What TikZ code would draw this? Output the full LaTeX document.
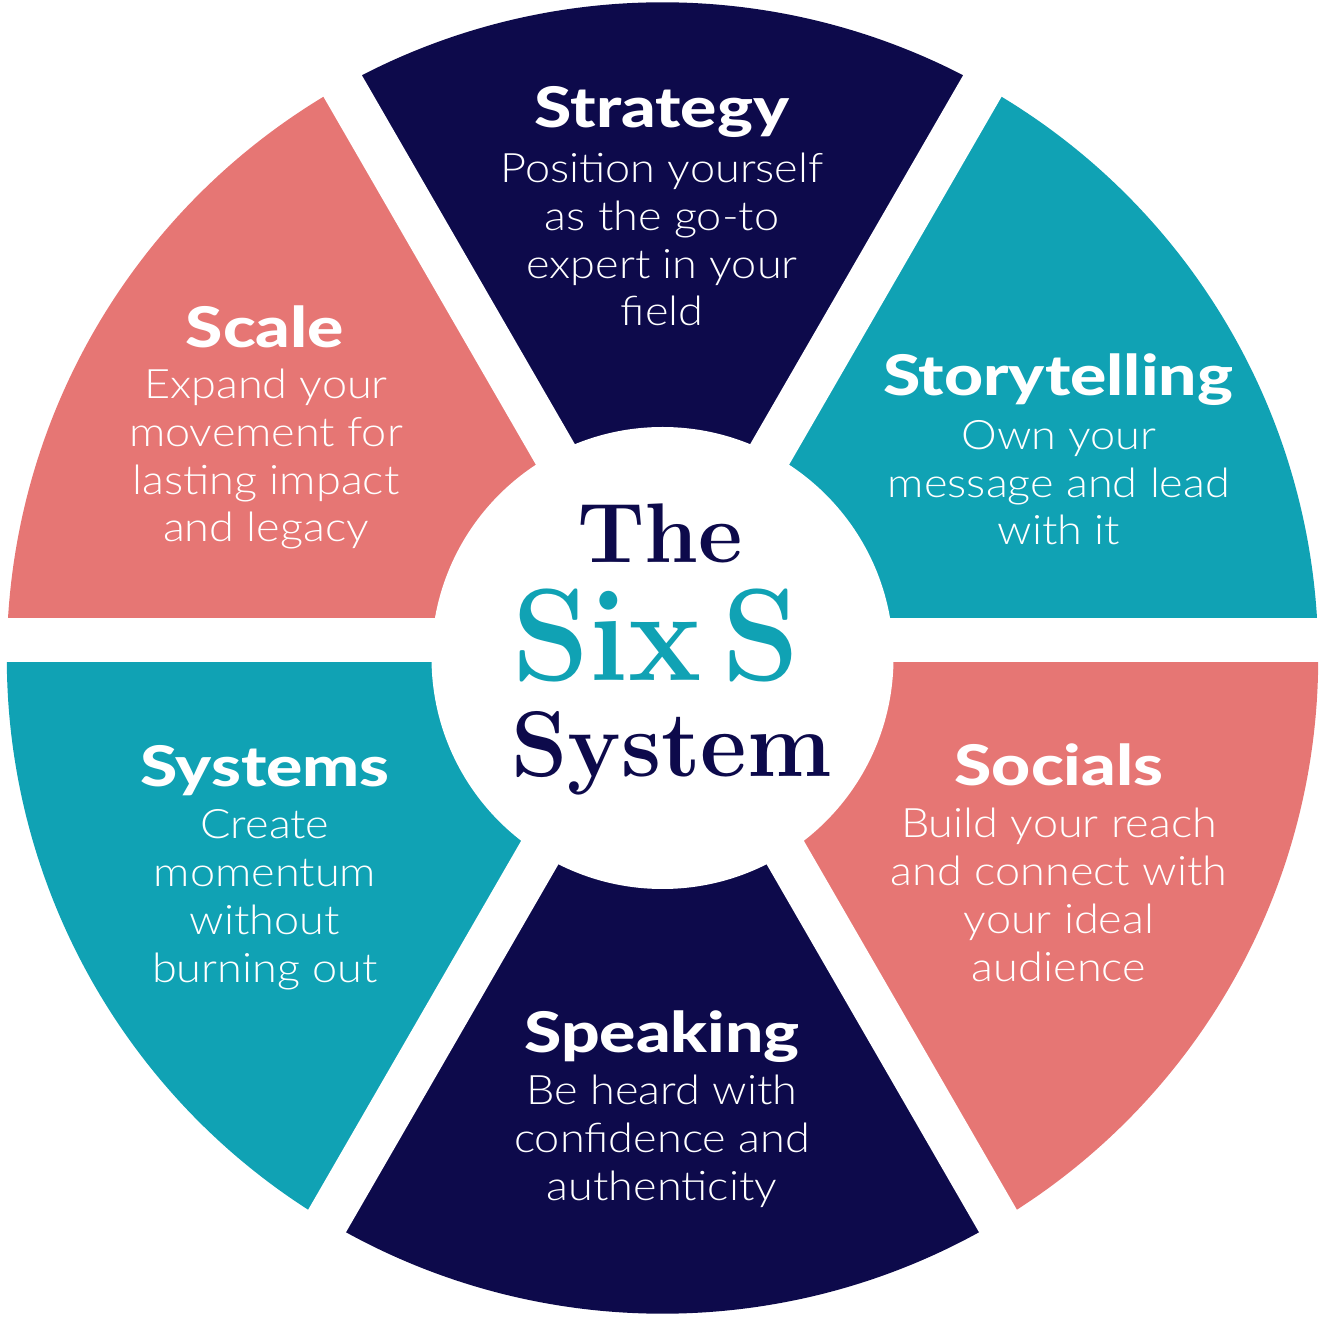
\documentclass[tikz,border=0pt]{standalone}
\usepackage{fontspec}
\usepackage{graphicx}
\usetikzlibrary{calc}
\newfontfamily\latof{Lato Heavy}[FakeStretch=1.21]
\newfontfamily\lightf{Lato Light}[FakeStretch=1.11]
\definecolor{navyc}{HTML}{0D0A4B}
\definecolor{tealc}{HTML}{10A2B4}
\definecolor{coralc}{HTML}{E67674}
\begin{document}
\begin{tikzpicture}[x=0.5pt,y=0.5pt,
  ttl/.style={anchor=base, text=white, inner sep=0pt, font=\latof\fontsize{28pt}{32pt}\selectfont},
  bdy/.style={anchor=base, text=white, inner sep=0pt, align=center, font=\lightf\fontsize{20.3pt}{23.9pt}\selectfont},
  gapline/.style={white, line width=22pt},
  big/.style={anchor=base, inner sep=0pt}]
\useasboundingbox (0,0) rectangle (1325,1322);
\def\outR{655.7}
\coordinate (O) at (662.5,664);
\coordinate (G) at (662.5,682);
% wedges
\fill[tealc]  (O) -- ++(0:\outR)   arc[start angle=0,  end angle=60, radius=\outR] -- cycle;
\fill[navyc]  (O) -- ++(60:\outR)  arc[start angle=60, end angle=120,radius=\outR] -- cycle;
\fill[coralc] (O) -- ++(120:\outR) arc[start angle=120,end angle=180,radius=\outR] -- cycle;
\fill[tealc]  (O) -- ++(180:\outR) arc[start angle=180,end angle=240,radius=\outR] -- cycle;
\fill[navyc]  (O) -- ++(240:\outR) arc[start angle=240,end angle=300,radius=\outR] -- cycle;
\fill[coralc] (O) -- ++(300:\outR) arc[start angle=300,end angle=360,radius=\outR] -- cycle;
% gaps
\draw[gapline] ($(G)+(0:760)$) -- ($(G)+(180:760)$);
\draw[gapline] ($(G)+(60:800)$) -- ($(G)+(240:800)$);
\draw[gapline] ($(G)+(120:800)$) -- ($(G)+(300:800)$);
% hub
\fill[white] (O) circle[radius=231];
% centre title
\node[big, text=navyc, font=\rmfamily\bfseries\fontsize{42.3pt}{50pt}\selectfont] (the) at (660,759) {\scalebox{1.02}[1]{The}};
\node[big, text=tealc, font=\rmfamily\bfseries\fontsize{65.6pt}{70pt}\selectfont] (six) at (656,641) {\scalebox{0.94}[1]{Six\hspace{11pt}S}};
\node[big, text=navyc, font=\rmfamily\bfseries\fontsize{46.6pt}{50pt}\selectfont] (sys) at (671.5,545) {\scalebox{0.968}[1]{System}};
% segment texts (body anchored at the baseline of its last line)
\node[ttl] (strT) at (662,1194) {Strategy};
\node[bdy] (strB) at (662,996) {Position yourself\\as the go-to\\expert in your\\field};
\node[ttl] (stoT) at (1058,926) {Storytelling};
\node[bdy] (stoB) at (1059,777) {Own your\\message and lead\\with it};
\node[ttl] (socT) at (1059,536) {Socials};
\node[bdy] (socB) at (1059,341) {Build your reach\\and connect with\\your ideal\\audience};
\node[ttl] (spkT) at (662,270) {Speaking};
\node[bdy] (spkB) at (662,122) {Be heard with\\confidence and\\authenticity};
\node[ttl] (sysT) at (265,535) {Systems};
\node[bdy] (sysB) at (265,340) {Create\\momentum\\without\\burning out};
\node[ttl] (sclT) at (265,974) {Scale};
\node[bdy] (sclB) at (266,780) {Expand your\\movement for\\lasting impact\\and legacy};
\end{tikzpicture}
\end{document}
